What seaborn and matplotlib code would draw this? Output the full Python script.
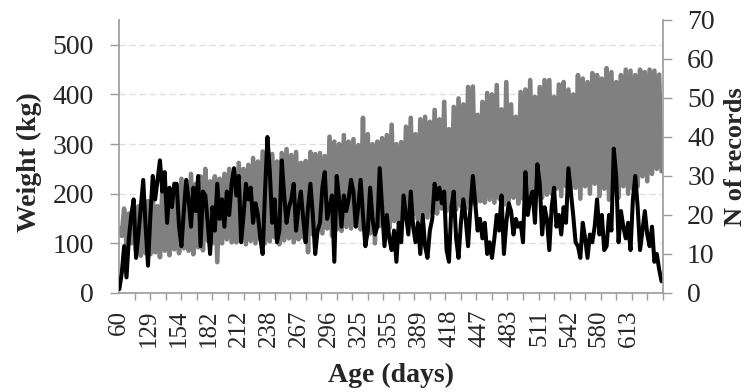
import numpy as np
import pandas as pd
import matplotlib
matplotlib.use("Agg")
import matplotlib.pyplot as plt
import seaborn as sns

# category labels shown on the x axis (age in days)
age_labels = [60, 129, 154, 182, 212, 238, 267, 296, 325, 355, 389, 418,
              447, 483, 511, 542, 580, 613]

# weight (kg), left axis - one value per plotted age point
weight = [
    130, 115, 170, 95, 160, 100, 150, 85, 175, 75, 165, 80,
    185, 78, 200, 82, 175, 72, 210, 85, 190, 76, 205, 88,
    215, 80, 230, 90, 205, 85, 240, 78, 220, 92, 235, 86,
    250, 105, 225, 100, 235, 62, 230, 100, 240, 108, 250, 102,
    245, 102, 262, 110, 250, 98, 258, 105, 272, 100, 265, 108,
    285, 100, 270, 104, 280, 112, 265, 98, 282, 106, 290, 110,
    278, 102, 284, 108, 262, 112, 266, 82, 284, 118, 280, 125,
    282, 120, 276, 130, 315, 115, 305, 128, 300, 125, 318, 133,
    305, 130, 310, 135, 298, 128, 353, 105, 320, 120, 300, 100,
    305, 135, 312, 142, 318, 130, 339, 145, 300, 138, 304, 150,
    335, 150, 353, 158, 320, 148, 350, 160, 355, 152, 345, 162,
    369, 160, 350, 170, 385, 165, 330, 172, 375, 168, 392, 175,
    380, 170, 415, 180, 416, 178, 359, 185, 385, 182, 403, 188,
    400, 182, 419, 190, 370, 178, 425, 185, 380, 192, 355, 180,
    405, 190, 410, 198, 429, 185, 395, 200, 415, 192, 429, 198,
    429, 200, 395, 210, 420, 195, 425, 215, 410, 205, 400, 212,
    439, 190, 432, 215, 425, 200, 443, 220, 439, 195, 432, 210,
    453, 188, 445, 205, 425, 192, 439, 215, 450, 200, 448, 210,
    439, 215, 450, 235, 445, 225, 450, 240, 448, 250, 440, 245,
]

# number of records, right axis
n_records = [
    1, 5, 12, 4, 14, 20, 24, 9, 15, 22, 29, 17,
    7, 20, 30, 24, 29, 34, 26, 31, 18, 27, 22, 28,
    28, 17, 12, 21, 29, 24, 17, 27, 21, 30, 12, 26,
    25, 18, 10, 22, 16, 28, 19, 24, 17, 26, 20, 28,
    32, 25, 30, 13, 20, 28, 24, 27, 18, 23, 20, 14,
    10, 26, 40, 31, 18, 24, 13, 16, 34, 25, 18, 22,
    24, 28, 16, 22, 26, 19, 13, 22, 28, 20, 10, 16,
    18, 27, 31, 19, 22, 25, 8, 30, 24, 17, 25, 21,
    24, 29, 26, 17, 22, 29, 20, 12, 16, 27, 19, 15,
    17, 32, 22, 12, 20, 14, 11, 16, 8, 18, 13, 25,
    20, 15, 26, 17, 13, 18, 10, 20, 12, 9, 16, 19,
    28, 24, 27, 23, 26, 11, 8, 22, 26, 14, 9, 18,
    24, 19, 12, 22, 30, 23, 16, 19, 14, 18, 10, 13,
    9, 14, 20, 16, 25, 10, 18, 23, 21, 15, 19, 17,
    18, 13, 31, 20, 24, 26, 18, 33, 28, 15, 22, 19,
    11, 22, 27, 17, 20, 15, 22, 18, 32, 26, 20, 13,
    12, 9, 18, 14, 9, 15, 13, 17, 24, 15, 20, 11,
    12, 20, 16, 37, 30, 13, 21, 17, 14, 18, 11, 24,
    30, 22, 11, 16, 21, 15, 12, 17, 8, 10, 6, 3,
]

df = pd.DataFrame({'point': np.arange(len(weight)),
                   'weight': weight,
                   'n_records': n_records})

sns.set_style('white')
plt.rcParams['font.family'] = ['Liberation Serif', 'DejaVu Serif']

axis_grey = '#9a9a9a'
tick_step = 6.5     # points between tick marks
label_step = 12.55  # points between age labels

fig = plt.figure(figsize=(7.51, 3.92), dpi=100)
ax = fig.add_axes([0.1589, 0.2526, 0.7236, 0.6964])

sns.lineplot(data=df, x='point', y='weight', color='#808080',
             linewidth=3.3, estimator=None, ax=ax)
ax.set_ylim(0, 550)
ax.set_xlim(0, 35 * tick_step)
ax.set_yticks(range(0, 501, 100))
ax.yaxis.grid(True, color='#dcdcdc', lw=0.9, linestyle=(0, (5, 3)))
ax.xaxis.grid(False)
ax.set_axisbelow(True)

ax.set_xticks(np.arange(len(age_labels)) * label_step)
ax.set_xticklabels(age_labels, rotation=90)
ax.set_xticks(np.arange(36) * tick_step, minor=True)
ax.tick_params(axis='x', which='major', length=0, pad=12, labelsize=18)
ax.tick_params(axis='x', which='minor', length=5, width=1, color=axis_grey,
               direction='out', bottom=True)
ax.tick_params(axis='y', length=6.5, width=1, color=axis_grey, pad=12,
               labelsize=20, direction='out', left=True)

ax2 = ax.twinx()
sns.lineplot(data=df, x='point', y='n_records', color='black',
             linewidth=2.9, estimator=None, ax=ax2)
ax2.set_ylim(0, 70)
ax2.set_yticks(range(0, 71, 10))
ax2.tick_params(axis='y', length=6.5, width=1, color=axis_grey, pad=11,
                labelsize=20, direction='out', right=True)
ax2.grid(False)

for name in ['top', 'right']:
    ax.spines[name].set_visible(False)
for name in ['top', 'left', 'bottom']:
    ax2.spines[name].set_visible(False)
for sp in [ax.spines['left'], ax.spines['bottom'], ax2.spines['right']]:
    sp.set_color(axis_grey)
    sp.set_linewidth(1.2)

ax.set_xlabel('Age (days)', fontsize=20, fontweight='bold')
ax.xaxis.set_label_coords(0.5, -0.255)
ax.set_ylabel('Weight (kg)', fontsize=20, fontweight='bold')
ax.yaxis.set_label_coords(-0.142, 0.48)
ax2.set_ylabel('N of records', fontsize=19, fontweight='bold')
ax2.yaxis.set_label_coords(1.113, 0.50)

fig.savefig('out.png', dpi=100)
